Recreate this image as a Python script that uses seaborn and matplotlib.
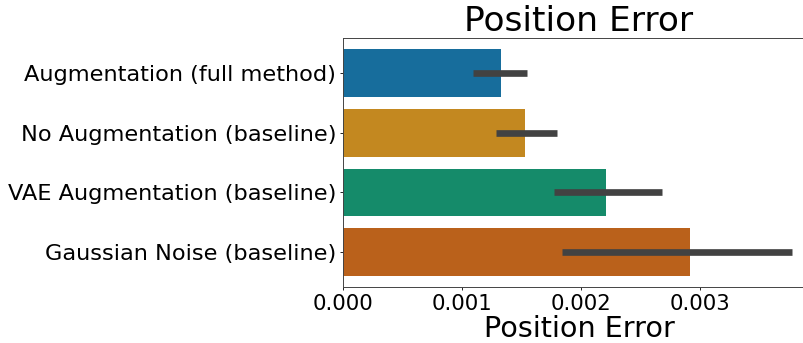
import matplotlib
matplotlib.use("Agg")
import pandas as pd
import matplotlib.pyplot as plt
import seaborn as sns

# Werte
methods = ['Augmentation (full method)', 'No Augmentation (baseline)',
           'VAE Augmentation (baseline)', 'Gaussian Noise (baseline)']
mean_error = [0.001333, 0.001535, 0.00221, 0.002916]
ci_low = [0.00109, 0.00129, 0.001773, 0.00184]
ci_high = [0.00155, 0.00180, 0.002687, 0.00378]

df = pd.DataFrame({'method': methods, 'error': mean_error})

fig = plt.figure(figsize=(8.04, 3.43), dpi=100)
ax = fig.add_axes([0.4266, 0.163, 0.587, 0.726])

sns.barplot(x='error', y='method', data=df, hue='method', palette='colorblind',
            errorbar=None, legend=False, ax=ax)

# Konfidenzintervalle
ax.hlines(y=range(len(methods)), xmin=ci_low, xmax=ci_high,
          color='.26', linewidth=4.8, zorder=3)

ax.set_xlim(0, 0.00397)
ax.set_ylim(3.59, -0.59)
ax.set_xticks([0, 0.001, 0.002, 0.003])
ax.tick_params(axis='both', length=2.5, pad=2.2, width=0.6)
ax.tick_params(axis='y', labelsize=16.2)
ax.tick_params(axis='x', labelsize=15.3)
for s in ax.spines.values():
    s.set_linewidth(0.7)
    s.set_color('#444444')
ax.set_ylabel('')
ax.set_xlabel('Position Error', fontsize=20.6, labelpad=1)
ax.set_title('Position Error', fontsize=24.8, pad=3)

fig.savefig('out.png', dpi=100)
